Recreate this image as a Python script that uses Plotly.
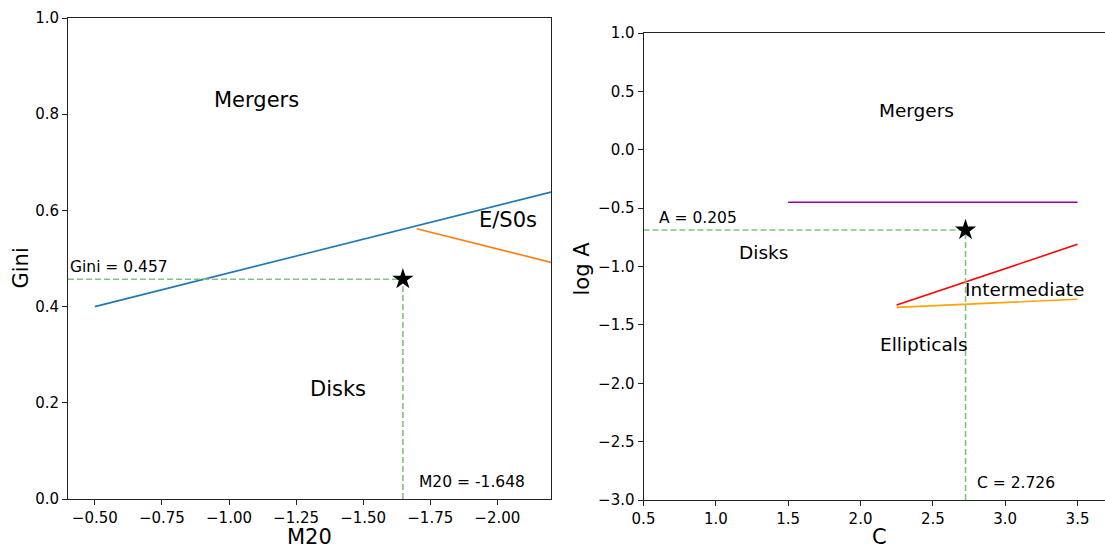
import plotly.graph_objects as go

# Gini–M20 classification boundaries
m20_merger = [-0.5, -2.2]
gini_merger = [0.40, 0.638]
m20_es0 = [-1.7, -2.2]
gini_es0 = [0.562, 0.492]
m20_val = -1.648
gini_val = 0.457

# C–log A classification boundaries
c_merger = [1.5, 3.5]
loga_merger = [-0.45, -0.45]
c_inter = [2.25, 3.5]
loga_inter = [-1.33, -0.81]
c_ell = [2.25, 3.5]
loga_ell = [-1.35, -1.28]
c_val = 2.726
a_val = 0.205
loga_val = -0.688  # log10(0.205)

# axis ranges and ticks
m20_range = [-0.4, -2.2]
gini_range = [0.0, 1.0]
c_range = [0.5, 3.69]
loga_range = [-3.0, 1.0]
m20_ticks = [-0.5, -0.75, -1.0, -1.25, -1.5, -1.75, -2.0]
gini_ticks = [0.0, 0.2, 0.4, 0.6, 0.8, 1.0]
c_ticks = [0.5, 1.0, 1.5, 2.0, 2.5, 3.0, 3.5]
loga_ticks = [-3.0, -2.5, -2.0, -1.5, -1.0, -0.5, 0.0, 0.5, 1.0]

FONT = "DejaVu Sans"
GREEN = "#7dc47d"
W, H = 1105, 544

fig = go.Figure()

def line(x, y, color, xa, ya, dash=None, width=1.6):
    fig.add_trace(go.Scatter(x=x, y=y, mode="lines", xaxis=xa, yaxis=ya,
                             line=dict(color=color, width=width, dash=dash),
                             showlegend=False, hoverinfo="skip"))

# left panel
line(m20_merger, gini_merger, "#1f77b4", "x", "y")
line(m20_es0, gini_es0, "#ff7f0e", "x", "y")
line([m20_range[0], m20_val], [gini_val, gini_val], GREEN, "x", "y", dash="6px,3px")
line([m20_val, m20_val], [gini_range[0], gini_val], GREEN, "x", "y", dash="6px,3px")
fig.add_trace(go.Scatter(x=[m20_val], y=[gini_val], mode="markers", xaxis="x", yaxis="y",
                         marker=dict(symbol="star", size=16, color="black"),
                         showlegend=False))

# right panel
line(c_merger, loga_merger, "#990099", "x2", "y2")
line(c_inter, loga_inter, "red", "x2", "y2")
line(c_ell, loga_ell, "orange", "x2", "y2")
line([c_range[0], c_val], [loga_val, loga_val], GREEN, "x2", "y2", dash="6px,3px")
line([c_val, c_val], [loga_range[0], loga_val], GREEN, "x2", "y2", dash="6px,3px")
fig.add_trace(go.Scatter(x=[c_val], y=[loga_val], mode="markers", xaxis="x2", yaxis="y2",
                         marker=dict(symbol="star", size=16, color="black"),
                         showlegend=False))

def txt(x, y, s, xr, yr, size, xanchor="center", yanchor="middle", angle=0):
    fig.add_annotation(x=x, y=y, xref=xr, yref=yr, text=s, showarrow=False,
                       xanchor=xanchor, yanchor=yanchor, textangle=angle,
                       font=dict(family=FONT, size=size, color="black"))

# region labels
txt(-1.104, 0.83, "Mergers", "x", "y", 21)
txt(-2.039, 0.58, "E/S0s", "x", "y", 21)
txt(-1.406, 0.229, "Disks", "x", "y", 21)
txt(-0.4, 0.482, f"Gini = {gini_val}", "x", "y", 15.5, "left")
txt(-1.70, 0.035, f"M20 = {m20_val}", "x", "y", 15.5, "left")

txt(2.39, 0.332, "Mergers", "x2", "y2", 18.5)
txt(1.326, -0.876, "Disks", "x2", "y2", 18.5)
txt(3.135, -1.193, "Intermediate", "x2", "y2", 18.5)
txt(2.438, -1.672, "Ellipticals", "x2", "y2", 18.5)
txt(0.594, -0.585, f"A = {a_val}", "x2", "y2", 15.5, "left")
txt(2.79, -2.854, f"C = {c_val}", "x2", "y2", 15.5, "left")

# axis titles
txt(309.5 / W, 21 / H, "M20", "paper", "paper", 21, yanchor="top")
txt(880 / W, 21 / H, "C", "paper", "paper", 21, yanchor="top")
txt(20 / W, 1 - 268.5 / H, "Gini", "paper", "paper", 21, angle=-90)
txt(581.5 / W, 1 - 269 / H, "log A", "paper", "paper", 21, angle=-90)

axis_common = dict(showgrid=False, zeroline=False, showline=True, linecolor="#222",
                   linewidth=1, mirror=True, ticks="outside", ticklen=5,
                   tickcolor="#222", automargin=False,
                   tickfont=dict(family=FONT, size=15, color="black"))

fig.update_layout(
    width=W, height=H,
    margin=dict(l=0, r=0, t=0, b=0),
    paper_bgcolor="white", plot_bgcolor="white",
    font=dict(family=FONT, color="black"),
    xaxis=dict(axis_common, domain=[68 / W, 551 / W], range=m20_range,
               tickvals=m20_ticks, tickformat=".2f", anchor="y"),
    yaxis=dict(axis_common, domain=[1 - 499 / H, 1 - 18 / H], range=gini_range,
               tickvals=gini_ticks, tickformat=".1f", anchor="x"),
    xaxis2=dict(axis_common, domain=[643.5 / W, 1.0], range=c_range,
                tickvals=c_ticks, tickformat=".1f", anchor="y2"),
    yaxis2=dict(axis_common, domain=[1 - 500 / H, 1 - 33 / H], range=loga_range,
                tickvals=loga_ticks, tickformat=".1f", anchor="x2"),
)

fig.write_html("out.html")
